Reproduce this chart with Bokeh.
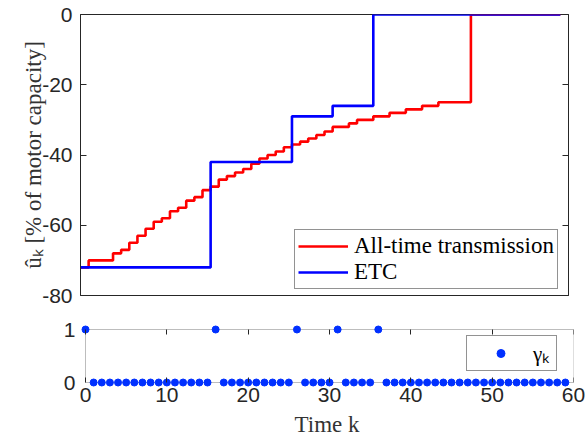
from bokeh.plotting import figure
from bokeh.layouts import column
from bokeh.models import (Range1d, LinearAxis, FixedTicker, Legend, LegendItem,
                          ColumnDataSource, CustomJSTickFormatter, BoxAnnotation)
from bokeh.embed import file_html
from bokeh.resources import INLINE

# ---------------- data ----------------
k = [0, 1, 2, 3, 4, 5, 6, 7, 8, 9,
     10, 11, 12, 13, 14, 15, 16, 17, 18, 19,
     20, 21, 22, 23, 24, 25, 26, 27, 28, 29,
     30, 31, 32, 33, 34, 35, 36, 37, 38, 39,
     40, 41, 42, 43, 44, 45, 46, 47, 48, 49,
     50, 51, 52, 53, 54, 55, 56, 57, 58, 59]

all_time = [-72, -70, -70, -70, -68, -67, -65, -63, -61, -59,
            -58, -56, -55, -53, -52, -50, -49, -47, -46, -45,
            -44, -42.5, -41, -40, -39, -37.8, -37, -36.2, -35.3, -34.3,
            -33.3, -32, -32, -31, -30, -30, -29, -29, -28, -28,
            -27, -27, -26, -26, -25, -25, -25, -25, 0, 0,
            0, 0, 0, 0, 0, 0, 0, 0, 0, 0]

etc = [-72, -72, -72, -72, -72, -72, -72, -72, -72, -72,
       -72, -72, -72, -72, -72, -72, -42, -42, -42, -42,
       -42, -42, -42, -42, -42, -42, -29, -29, -29, -29,
       -29, -26, -26, -26, -26, -26, 0, 0, 0, 0,
       0, 0, 0, 0, 0, 0, 0, 0, 0, 0,
       0, 0, 0, 0, 0, 0, 0, 0, 0, 0]

gamma = [1, 0, 0, 0, 0, 0, 0, 0, 0, 0,
         0, 0, 0, 0, 0, 0, 1, 0, 0, 0,
         0, 0, 0, 0, 0, 0, 1, 0, 0, 0,
         0, 1, 0, 0, 0, 0, 1, 0, 0, 0,
         0, 0, 0, 0, 0, 0, 0, 0, 0, 0,
         0, 0, 0, 0, 0, 0, 0, 0, 0, 0]

x_ticks = [0, 10, 20, 30, 40, 50, 60]
u_ticks = [-80, -60, -40, -20, 0]
u_tick_labels = {-80: "-80", -60: "-60", -40: "-40", -20: "-20", 0: "0"}
g_ticks = [0, 1]

AX = "#262626"
LABC = "#333333"
SANS = "Liberation Sans"
SERIF = "Liberation Serif"
TICK_FS = "21px"
LAB_FS = "23px"

blank = CustomJSTickFormatter(code="return ''")

src = ColumnDataSource(dict(k=k, all_time=all_time, etc=etc, gamma=gamma))

# ---------------- top panel ----------------
p1 = figure(x_range=Range1d(0, 60), y_range=Range1d(-80, 0),
            frame_width=488, frame_height=281,
            min_border_left=80, min_border_right=17, min_border_top=14, min_border_bottom=14,
            output_backend="svg", toolbar_location=None,
            outline_line_color=AX, outline_line_width=1)
p1.grid.visible = False
p1.xaxis.visible = False

ya = p1.yaxis[0]
ya.ticker = FixedTicker(ticks=u_ticks)
ya.major_label_overrides = u_tick_labels
ya.minor_tick_line_color = None
ya.minor_tick_out = 0
ya.major_tick_in = 6
ya.major_tick_out = 0
ya.axis_line_color = AX
ya.major_tick_line_color = AX
ya.major_label_text_font = SANS
ya.major_label_text_font_size = TICK_FS
ya.major_label_text_color = AX
ya.major_label_standoff = 8
ya.axis_label = "ûₖ [% of motor capacity]"
ya.axis_label_text_font = SERIF
ya.axis_label_text_font_size = LAB_FS
ya.axis_label_text_font_style = "normal"
ya.axis_label_text_color = LABC
ya.axis_label_standoff = -7

yr = LinearAxis(ticker=FixedTicker(ticks=u_ticks), formatter=blank,
                major_tick_in=6, major_tick_out=0, minor_tick_out=0,
                minor_tick_line_color=None, axis_line_color=AX, major_tick_line_color=AX,
                major_label_standoff=0)
p1.add_layout(yr, "right")

r_all = p1.step(x="k", y="all_time", source=src, mode="after",
                line_color="#ff0000", line_width=2.6)
r_etc = p1.step(x="k", y="etc", source=src, mode="after",
                line_color="#0000ff", line_width=2.6)

leg1 = Legend(items=[LegendItem(label="All-time transmission", renderers=[r_all]),
                     LegendItem(label="ETC", renderers=[r_etc])],
              location=(214, 6), margin=0, padding=3, spacing=0,
              glyph_width=50, label_standoff=6,
              label_text_font=SERIF, label_text_font_size=LAB_FS, label_text_color="black",
              border_line_color=AX, border_line_width=1, background_fill_alpha=1)
p1.add_layout(leg1)

# ---------------- bottom panel ----------------
mx = 5 / 8.1333
my = 5 / 53.0
p2 = figure(x_range=Range1d(-mx, 60), y_range=Range1d(-my, 1 + my),
            frame_width=493, frame_height=63,
            min_border_left=75, min_border_right=17, min_border_top=15, min_border_bottom=0,
            output_backend="svg", toolbar_location=None,
            outline_line_color=None)
p2.grid.visible = False

xb = p2.xaxis[0]
xb.ticker = FixedTicker(ticks=x_ticks)
xb.axis_line_color = None
xb.major_tick_line_color = None
xb.minor_tick_line_color = None
xb.major_tick_out = 0
xb.minor_tick_out = 0
xb.major_label_text_font = SANS
xb.major_label_text_font_size = TICK_FS
xb.major_label_text_color = AX
xb.major_label_standoff = 0
xb.axis_label = "Time k"
xb.axis_label_text_font = SERIF
xb.axis_label_text_font_size = LAB_FS
xb.axis_label_text_font_style = "normal"
xb.axis_label_text_color = LABC
xb.axis_label_standoff = 7

yl = p2.yaxis[0]
yl.ticker = FixedTicker(ticks=g_ticks)
yl.axis_line_color = None
yl.major_tick_line_color = None
yl.minor_tick_line_color = None
yl.major_tick_out = 0
yl.minor_tick_out = 0
yl.major_label_text_font = SANS
yl.major_label_text_font_size = TICK_FS
yl.major_label_text_color = AX
yl.major_label_standoff = 5

# axes box 0..60 x 0..1
p2.add_layout(BoxAnnotation(left=0, right=60, bottom=0, top=1,
                            fill_color=None, fill_alpha=0,
                            line_color=AX, line_width=1, level="underlay"))

# inward ticks on the bottom (y=0) and top (y=1) edges
tb = LinearAxis(fixed_location=0, bounds=(0, 60), ticker=FixedTicker(ticks=x_ticks),
                formatter=blank, major_tick_in=0, major_tick_out=5, minor_tick_out=0,
                minor_tick_line_color=None, axis_line_color=None,
                major_tick_line_color=AX, major_label_standoff=0)
p2.add_layout(tb, "above")
tt = LinearAxis(fixed_location=1, bounds=(0, 60), ticker=FixedTicker(ticks=x_ticks),
                formatter=blank, major_tick_in=5, major_tick_out=0, minor_tick_out=0,
                minor_tick_line_color=None, axis_line_color=None,
                major_tick_line_color=AX, major_label_standoff=0)
p2.add_layout(tt, "above")

r_g = p2.scatter(x="k", y="gamma", source=src, size=7, color="#0030ff")

leg2 = Legend(items=[LegendItem(label="γₖ", renderers=[r_g])],
              location="bottom_right", margin=16, padding=3, spacing=0,
              glyph_width=61, label_standoff=2,
              label_text_font=SERIF, label_text_font_size="21px", label_text_color="black",
              border_line_color=AX, border_line_width=1, background_fill_alpha=1)
p2.add_layout(leg2)

layout = column(p1, p2, spacing=0)
open("out.html", "w").write(file_html(layout, INLINE))
